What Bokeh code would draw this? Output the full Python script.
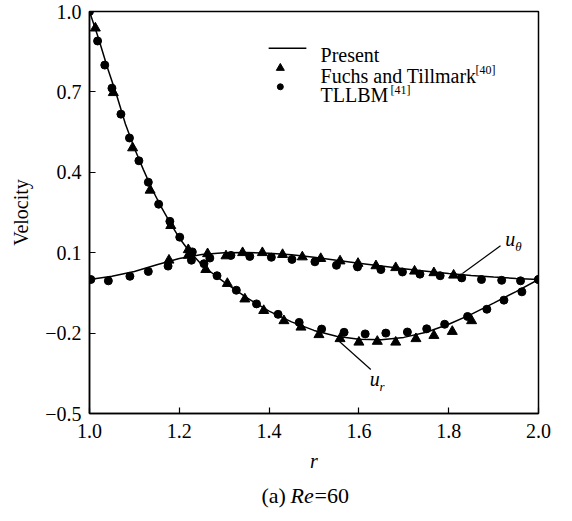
from bokeh.plotting import figure
from bokeh.models import FixedTicker, Label, Range1d
from bokeh.layouts import column
from bokeh.embed import file_html
from bokeh.resources import INLINE

# ---- data ----
present_r = [1.0, 1.02, 1.04, 1.06, 1.08, 1.10, 1.12, 1.14, 1.16, 1.18, 1.20, 1.22, 1.25, 1.28,
             1.30, 1.35, 1.40, 1.45, 1.50, 1.55, 1.60, 1.65, 1.70, 1.75, 1.80, 1.85, 1.90, 1.95, 2.0]
present_ur = [1.0, 0.90, 0.79, 0.69, 0.58, 0.49, 0.41, 0.335, 0.27, 0.21, 0.155, 0.11, 0.055, 0.015,
              -0.01, -0.068, -0.118, -0.158, -0.19, -0.212, -0.223, -0.225, -0.216, -0.197, -0.167,
              -0.13, -0.088, -0.045, 0.0]

present_r2 = [1.0, 1.05, 1.10, 1.15, 1.20, 1.25, 1.30, 1.35, 1.40, 1.45, 1.50, 1.55, 1.60, 1.65,
              1.70, 1.75, 1.80, 1.85, 1.90, 1.95, 2.0]
present_ut = [0.0, 0.012, 0.03, 0.055, 0.078, 0.093, 0.1, 0.101, 0.098, 0.092, 0.083, 0.072, 0.061,
              0.05, 0.04, 0.031, 0.022, 0.015, 0.009, 0.004, 0.0]

fuchs_r_ur = [1.013, 1.053, 1.096, 1.135, 1.181, 1.22, 1.259, 1.307, 1.346, 1.388, 1.433, 1.471,
              1.511, 1.558, 1.60, 1.641, 1.682, 1.727, 1.767, 1.808, 1.851]
fuchs_ur = [0.938, 0.697, 0.491, 0.333, 0.201, 0.111, 0.037, -0.015, -0.073, -0.116, -0.154, -0.178,
            -0.206, -0.221, -0.234, -0.231, -0.234, -0.221, -0.209, -0.194, -0.154]
fuchs_r_ut = [1.177, 1.22, 1.263, 1.304, 1.341, 1.385, 1.43, 1.474, 1.515, 1.558, 1.598, 1.638,
              1.682, 1.724, 1.767, 1.811]
fuchs_ut = [0.072, 0.09, 0.096, 0.088, 0.10, 0.10, 0.093, 0.084, 0.078, 0.069, 0.06, 0.051,
            0.044, 0.031, 0.025, 0.016]

tllbm_r_ur = [1.0, 1.018, 1.034, 1.05, 1.07, 1.089, 1.11, 1.131, 1.154, 1.179, 1.201, 1.229, 1.255,
              1.284, 1.327, 1.372, 1.42, 1.467, 1.517, 1.567, 1.614, 1.66, 1.708, 1.751, 1.791,
              1.842, 1.885, 1.923, 1.963, 2.0]
tllbm_ur = [1.0, 0.89, 0.80, 0.714, 0.617, 0.528, 0.443, 0.363, 0.281, 0.217, 0.158, 0.103, 0.059,
            0.014, -0.04, -0.091, -0.13, -0.16, -0.185, -0.197, -0.203, -0.2, -0.196, -0.184, -0.167,
            -0.138, -0.111, -0.077, -0.046, 0.0]
tllbm_r_ut = [1.003, 1.042, 1.09, 1.131, 1.175, 1.227, 1.268, 1.315, 1.357, 1.405, 1.451, 1.502,
              1.55, 1.597, 1.649, 1.697, 1.736, 1.781, 1.829, 1.873, 1.918, 1.96, 2.0]
tllbm_ut = [0.0, -0.005, 0.012, 0.03, 0.05, 0.072, 0.08, 0.09, 0.086, 0.083, 0.075, 0.066, 0.053,
            0.047, 0.037, 0.028, 0.02, 0.014, 0.006, 0.0, -0.003, -0.005, 0.0]

x_ticks = [1.0, 1.2, 1.4, 1.6, 1.8, 2.0]
y_ticks = [1.0, 0.7, 0.4, 0.1, -0.2, -0.5]
y_tick_labels = {1.0: "1.0", 0.7: "0.7", 0.4: "0.4", 0.1: "0.1", -0.2: "\u22120.2", -0.5: "\u22120.5"}
x_tick_labels = {1.0: "1.0", 1.2: "1.2", 1.4: "1.4", 1.6: "1.6", 1.8: "1.8", 2.0: "2.0"}

legend_labels = ["Present", "Fuchs and Tillmark", "TLLBM"]
legend_refs = ["[40]", "[41]"]
caption_parts = ["(a)", "Re", "=60"]

FONT = "Liberation Serif"
FS = 20
CFS = 22

p = figure(frame_width=449, frame_height=402, x_range=Range1d(1.0, 2.0), y_range=Range1d(-0.5, 1.0),
           output_backend="svg", toolbar_location=None,
           min_border_left=89, min_border_top=11, min_border_right=18, min_border_bottom=66)
p.background_fill_color = "white"
p.border_fill_color = "white"
p.grid.visible = False
p.outline_line_color = "black"
p.outline_line_width = 1.5

for ax in (p.xaxis[0], p.yaxis[0]):
    ax.axis_line_width = 1.5
    ax.major_tick_in = 6
    ax.major_tick_out = 0
    ax.major_tick_line_width = 1.2
    ax.minor_tick_line_color = None
    ax.major_label_text_font = FONT
    ax.major_label_text_font_size = f"{FS}px"
    ax.major_label_text_color = "black"
    ax.axis_label_text_font = FONT
    ax.axis_label_text_font_size = f"{FS}px"
    ax.axis_label_text_color = "black"

p.xaxis.ticker = FixedTicker(ticks=x_ticks)
p.xaxis.major_label_overrides = x_tick_labels
p.xaxis.major_label_standoff = 10
p.xaxis.axis_label = "r"
p.xaxis.axis_label_text_font_style = "italic"
p.xaxis.axis_label_standoff = 9

p.yaxis.ticker = FixedTicker(ticks=y_ticks)
p.yaxis.major_label_overrides = y_tick_labels
p.yaxis.major_label_standoff = 8
p.yaxis.axis_label = "Velocity"
p.yaxis.axis_label_text_font_style = "normal"
p.yaxis.axis_label_standoff = 10

# curves
p.line(present_r, present_ur, line_color="black", line_width=1.5)
p.line(present_r2, present_ut, line_color="black", line_width=1.5)

# data points
p.scatter(fuchs_r_ur, fuchs_ur, marker="triangle", size=10, color="black")
p.scatter(fuchs_r_ut, fuchs_ut, marker="triangle", size=10, color="black")
p.scatter(tllbm_r_ur, tllbm_ur, marker="circle", size=8, color="black")
p.scatter(tllbm_r_ut, tllbm_ut, marker="circle", size=8, color="black")


def lab(fig, x, y, text, size=f"{FS}px", style="normal", align="left", baseline="alphabetic", xoff=0):
    fig.add_layout(Label(x=x, y=y, x_offset=xoff, text=text, text_font=FONT, text_font_size=size,
                         text_font_style=style, text_color="black", text_align=align,
                         text_baseline=baseline))


# legend (manual, to allow superscripts)
p.line([1.399, 1.483], [0.863, 0.863], line_color="black", line_width=1.5)
p.scatter([1.425], [0.789], marker="triangle", size=8, color="black")
p.scatter([1.425], [0.719], marker="circle", size=6, color="black")

LX = 1.5145
lab(p, LX, 0.837, legend_labels[0])
lab(p, LX, 0.761, legend_labels[1])
lab(p, LX, 0.780, legend_refs[0], size="12px", xoff=round(7.318 * FS) + 9)
lab(p, LX, 0.687, legend_labels[2])
lab(p, LX, 0.706, legend_refs[1], size="12px", xoff=round(3.389 * FS) + 2)

# curve annotations
p.line([1.9154, 1.8307], [0.126, 0.022], line_color="black", line_width=1.2)
lab(p, 1.9258, 0.152, "u", style="italic", baseline="middle")
lab(p, 1.948, 0.122, "\u03b8", size="13px", style="italic", baseline="middle")

p.line([1.5523, 1.6265], [-0.2248, -0.3359], line_color="black", line_width=1.2)
lab(p, 1.624, -0.372, "u", style="italic", baseline="middle")
lab(p, 1.646, -0.398, "r", size="13px", style="italic", baseline="middle")

# caption as a small companion figure below the chart (frame aligned with the chart frame)
cap = figure(frame_width=449, frame_height=30, x_range=Range1d(0, 449), y_range=Range1d(0, 30),
             output_backend="svg", toolbar_location=None,
             x_axis_location=None, y_axis_location=None,
             min_border_left=89, min_border_right=18, min_border_top=0, min_border_bottom=0)
cap.grid.visible = False
cap.outline_line_color = None
cap.background_fill_color = "white"
cap.border_fill_color = "white"
cap_y = 14
cap_x0 = 172
o1 = round(1.11 * CFS) + 5
o2 = o1 + round(1.055 * CFS) + 1
lab(cap, cap_x0, cap_y, caption_parts[0], size=f"{CFS}px", baseline="middle")
lab(cap, cap_x0, cap_y, caption_parts[1], size=f"{CFS}px", style="italic", baseline="middle", xoff=o1)
lab(cap, cap_x0, cap_y, caption_parts[2], size=f"{CFS}px", baseline="middle", xoff=o2)

open("out.html", "w").write(file_html(column(p, cap, spacing=0), INLINE))
